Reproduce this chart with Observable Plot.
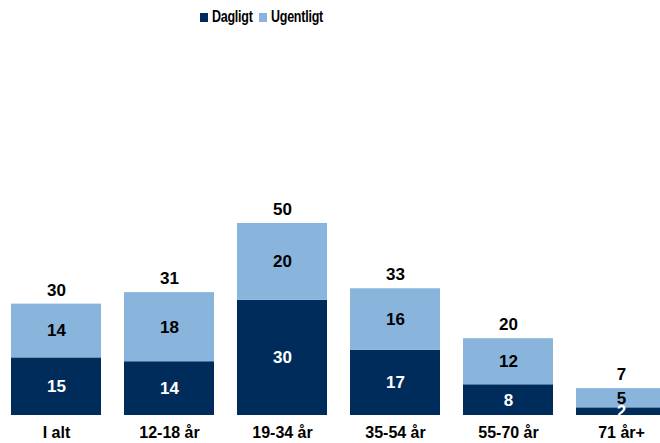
<!DOCTYPE html>
<html><head><meta charset="utf-8">
<script src="https://cdn.jsdelivr.net/npm/d3@7"></script>
<script src="https://cdn.jsdelivr.net/npm/@observablehq/plot@0.6"></script>
<style>
body{margin:0;background:#fff;font-family:"Liberation Sans",sans-serif;}
#legend{height:34px;position:relative;font-family:"Liberation Sans",sans-serif;font-weight:bold;font-size:16px;color:#000;}
#legend .item{position:absolute;top:8px;display:flex;align-items:center;white-space:nowrap;}
#legend span.sw{display:inline-block;width:8px;height:9px;margin-right:4px;}
#legend span.tx{display:inline-block;transform:scaleX(0.78);transform-origin:left center;letter-spacing:-0.3px;}
</style></head>
<body>
<div id="legend"></div>
<div id="chart"></div>
<script>
const categories = ["I alt","12-18 år","19-34 år","35-54 år","55-70 år","71 år+"];
const dagligt = [15,14,30,17,8,2];
const ugentligt = [14,18,20,16,12,5];
const totals = [30,31,50,33,20,7];
const series = ["Dagligt","Ugentligt"];
const colors = ["#002c5b","#89b5dd"];

const rows = [];
categories.forEach((c,i)=>{
  rows.push({cat:c, series:"Dagligt", value:dagligt[i]});
  rows.push({cat:c, series:"Ugentligt", value:ugentligt[i]});
});
const tops = categories.map((c,i)=>({cat:c, top:dagligt[i]+ugentligt[i], total:totals[i]}));

const leg = document.getElementById("legend");
const legX = [200, 259];
series.forEach((s,i)=>{
  const d=document.createElement("div"); d.className="item";
  d.style.left = legX[i]+"px";
  d.innerHTML=`<span class="sw" style="background:${colors[i]}"></span><span class="tx">${s}</span>`;
  leg.appendChild(d);
});

const font = '"Liberation Sans",sans-serif';
const chart = Plot.plot({
  width:660, height:409,
  marginTop:20, marginBottom:28, marginLeft:0, marginRight:0,
  style:{fontFamily:font, fontSize:"16px", fontWeight:"bold", color:"#000", background:"#fff"},
  x:{domain:categories, range:[-1.3,678.4], paddingInner:0.206, paddingOuter:0.1, label:null, tickSize:0, tickPadding:11},
  y:{domain:[0,94], axis:null},
  color:{domain:series, range:colors},
  marks:[
    Plot.barY(rows, Plot.stackY({x:"cat", y:"value", fill:"series", order:series})),
    Plot.text(rows, Plot.stackY({x:"cat", y:"value", z:"series", order:series, text:d=>String(d.value),
      fill:d=>d.series==="Dagligt"?"#fff":"#000", fontSize:17, fontWeight:"bold"})),
    Plot.text(tops, {x:"cat", y:"top", text:d=>String(d.total), dy:-14, fill:"#000", fontSize:17, fontWeight:"bold"})
  ]
});
document.getElementById("chart").appendChild(chart);
</script>
</body></html>
